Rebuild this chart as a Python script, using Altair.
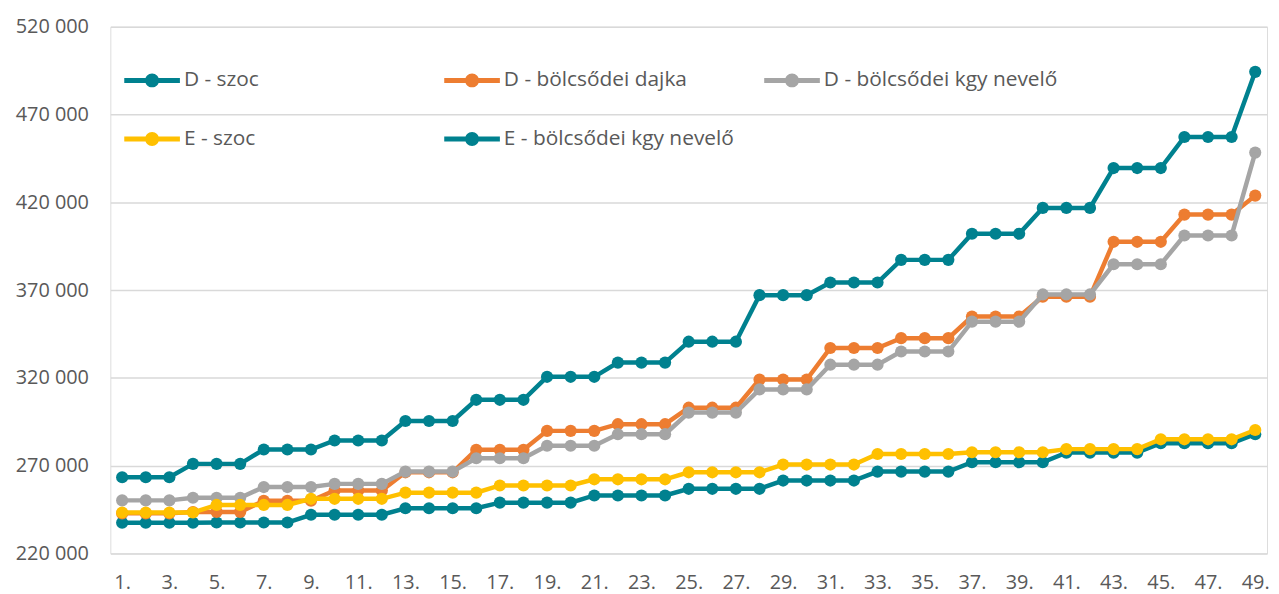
import altair as alt
import pandas as pd

# --- data ---
categories = [f"{i}." for i in range(1, 50)]

series_names = [
    "D - szoc",
    "D - bölcsődei dajka",
    "D - bölcsődei kgy nevelő",
    "E - szoc",
    "E - bölcsődei kgy nevelő",
]

d_szoc = [263400, 263400, 263400, 271000, 271000, 271000, 279200, 279200, 279200,
          284300, 284300, 284300, 295400, 295400, 295400, 307500, 307500, 307500,
          320600, 320600, 320600, 328700, 328700, 328700, 340600, 340600, 340600,
          367100, 367100, 367100, 374300, 374300, 374300, 387200, 387200, 387200,
          402100, 402100, 402100, 416800, 416800, 416800, 439500, 439500, 439500,
          457200, 457200, 457200, 494300]

d_dajka = [242800, 242800, 242800, 243600, 243600, 243600, 250000, 250000, 250000,
           255800, 255800, 255800, 266200, 266200, 266200, 279000, 279000, 279000,
           289800, 289800, 289800, 293600, 293600, 293600, 303000, 303000, 303000,
           319000, 319000, 319000, 337000, 337000, 337000, 342600, 342600, 342600,
           354900, 354900, 354900, 366200, 366200, 366200, 397500, 397500, 397500,
           413000, 413000, 413000, 423800]

d_kgy = [250200, 250200, 250200, 251700, 251700, 251700, 257800, 257800, 257800,
         259600, 259600, 259600, 266600, 266600, 266600, 274200, 274200, 274200,
         281300, 281300, 281300, 287900, 287900, 287900, 300200, 300200, 300200,
         313400, 313400, 313400, 327500, 327500, 327500, 335000, 335000, 335000,
         352000, 352000, 352000, 367500, 367500, 367500, 384700, 384700, 384700,
         401100, 401100, 401100, 448300]

e_szoc = [243300, 243300, 243300, 243300, 247600, 247600, 247600, 247600,
          251100, 251100, 251100, 251100, 254600, 254600, 254600, 254600,
          258700, 258700, 258700, 258700, 262200, 262200, 262200, 262200,
          266200, 266200, 266200, 266200, 270600, 270600, 270600, 270600,
          276600, 276600, 276600, 276600, 277600, 277600, 277600, 277600,
          279400, 279400, 279400, 279400, 285000, 285000, 285000, 285000,
          290300]

e_kgy = [237500, 237500, 237500, 237500, 237600, 237600, 237600, 237600,
         242000, 242000, 242000, 242000, 245700, 245700, 245700, 245700,
         248900, 248900, 248900, 248900, 253000, 253000, 253000, 253000,
         256800, 256800, 256800, 256800, 261500, 261500, 261500, 261500,
         266600, 266600, 266600, 266600, 271900, 271900, 271900, 271900,
         277400, 277400, 277400, 277400, 282800, 282800, 282800, 282800,
         287900]

colors = ["#00818F", "#ED7D31", "#A5A5A5", "#FFC000", "#00818F"]
y_ticks = [220000, 270000, 320000, 370000, 420000, 470000, 520000]
x_tick_labels = categories[::2]

values_by_series = dict(zip(series_names, [d_szoc, d_dajka, d_kgy, e_szoc, e_kgy]))
rows = []
for name, vals in values_by_series.items():
    for cat, v in zip(categories, vals):
        rows.append({"kat": cat, "sorozat": name, "ertek": v})
df = pd.DataFrame(rows)

FONT = "Open Sans"
TXT = "#595959"

legend_path = ("M-1,-0.09H1V0.09H-1Z "
               "M0.25,0A0.25,0.25 0 1,1 -0.25,0A0.25,0.25 0 1,1 0.25,0Z")

color = alt.Color(
    "sorozat:N",
    scale=alt.Scale(domain=series_names, range=colors),
    legend=alt.Legend(
        title=None,
        orient="none",
        direction="horizontal",
        legendX=14,
        legendY=26,
        columns=3,
        gridAlign="all",
        columnPadding=26,
        rowPadding=21,
        symbolType=legend_path,
        symbolSize=3136,
        symbolStrokeWidth=0,
        symbolOpacity=1,
        labelFont=FONT,
        labelFontSize=21,
        labelColor=TXT,
        labelOffset=4,
        labelLimit=400,
        padding=0,
    ),
)

x = alt.X(
    "kat:O",
    sort=categories,
    scale=alt.Scale(type="point", padding=0.5),
    axis=alt.Axis(
        title=None,
        values=x_tick_labels,
        labelAngle=0,
        domain=False,
        ticks=False,
        grid=False,
        labelFont=FONT,
        labelFontSize=20,
        labelColor=TXT,
        labelPadding=19,
    ),
)

y = alt.Y(
    "ertek:Q",
    scale=alt.Scale(domain=[220000, 520000], nice=False, zero=False),
    axis=alt.Axis(
        title=None,
        values=y_ticks,
        labelExpr="replace(format(datum.value, ','), ',', ' ')",
        domain=False,
        ticks=False,
        tickSize=0,
        grid=True,
        gridColor="#D9D9D9",
        gridWidth=1.5,
        labelFont=FONT,
        labelFontSize=20,
        labelColor=TXT,
        labelPadding=22,
    ),
)

base = alt.Chart(df)
z_order = ["E - bölcsődei kgy nevelő", "D - szoc", "D - bölcsődei dajka",
           "D - bölcsődei kgy nevelő", "E - szoc"]
layers = []
for name in z_order:
    sub = base.transform_filter(alt.datum.sorozat == name)
    layers.append(
        sub.mark_circle(size=150, opacity=1).encode(x=x, y=y, color=color)
    )
    layers.append(
        sub.mark_line(strokeWidth=4.5, opacity=1).encode(x=x, y=y, color=color)
    )

chart = alt.layer(*layers).properties(
    width=1164,
    height=530,
    padding={"left": 103, "top": 17, "right": 4, "bottom": 39},
    autosize=alt.AutoSizeParams(type="none"),
).configure_view(stroke=None).configure(background="white")

chart.save("out.html", embed_options={"renderer": "svg", "actions": False})
